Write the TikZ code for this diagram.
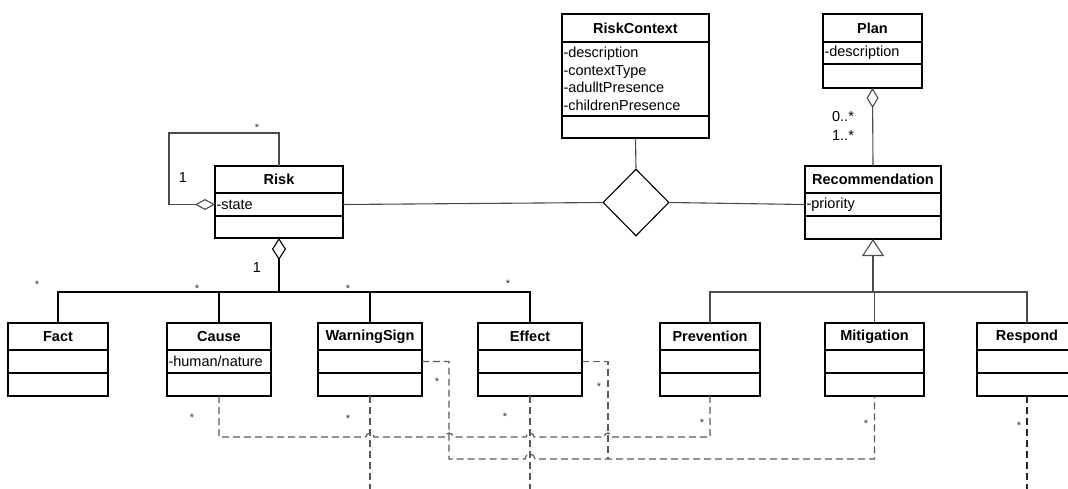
\documentclass[tikz,border=0pt]{standalone}
\usepackage{fontspec}
\setmainfont{Liberation Sans}
\usetikzlibrary{positioning,shapes.geometric,arrows.meta}
\tikzset{
  umlname/.style={draw, line width=1.4pt, minimum height=27pt, inner sep=0pt, outer sep=0pt, font=\fontsize{14.5}{17.5}\selectfont\bfseries},
  umlpart/.style={draw, line width=1.4pt, inner xsep=1.5pt, inner ysep=0pt, outer sep=0pt, align=left, font=\fontsize{14.5}{17.5}\selectfont},
  assoc/.style={line width=1.1pt, black!70},
  dep/.style={line width=1.2pt, black!65, dash pattern=on 7pt off 4pt},
  mult/.style={inner sep=0pt, font=\fontsize{14.5}{17.5}\selectfont},
  star/.style={inner sep=0pt, black!80, font=\fontsize{11}{11}\selectfont},
}
\begin{document}
\begin{tikzpicture}[x=1pt,y=-1pt]
\useasboundingbox (0,0) rectangle (1068,488);

\node[umlname, minimum width=128pt] (risk) at (279,179.5) {Risk};
\node[umlpart, text width=125pt, minimum height=23pt, below=0pt of risk] (risk-a) {-state};
\node[umlpart, text width=125pt, minimum height=22pt, below=0pt of risk-a] (risk-o) {};

\node[umlname, minimum width=147pt, minimum height=28pt] (ctx) at (635.5,28) {RiskContext};
\node[umlpart, text width=144pt, minimum height=74pt, below=0pt of ctx] (ctx-a) {-description\\-contextType\\-adulltPresence\\-childrenPresence};
\node[umlpart, text width=144pt, minimum height=22pt, below=0pt of ctx-a] (ctx-o) {};

\node[umlname, minimum width=99pt, minimum height=28pt] (plan) at (872.5,28) {Plan};
\node[umlpart, text width=96pt, minimum height=22pt, below=0pt of plan] (plan-a) {-description};
\node[umlpart, text width=96pt, minimum height=24pt, below=0pt of plan-a] (plan-o) {};

\node[umlname, minimum width=136pt] (rec) at (873,179.5) {Recommendation};
\node[umlpart, text width=133pt, minimum height=23pt, below=0pt of rec] (rec-a) {-priority};
\node[umlpart, text width=133pt, minimum height=23pt, below=0pt of rec-a] (rec-o) {};

\node[umlname, minimum width=100pt] (fact) at (58,336.5) {Fact};
\node[umlpart, text width=97pt, minimum height=23pt, below=0pt of fact] (fact-a) {};
\node[umlpart, text width=97pt, minimum height=23pt, below=0pt of fact-a] (fact-o) {};

\node[umlname, minimum width=104pt] (cause) at (219,336.5) {Cause};
\node[umlpart, text width=101pt, minimum height=23pt, below=0pt of cause] (cause-a) {-human/nature};
\node[umlpart, text width=101pt, minimum height=23pt, below=0pt of cause-a] (cause-o) {};

\node[umlname, minimum width=104pt] (warn) at (370,336.5) {WarningSign};
\node[umlpart, text width=101pt, minimum height=23pt, below=0pt of warn] (warn-a) {};
\node[umlpart, text width=101pt, minimum height=23pt, below=0pt of warn-a] (warn-o) {};

\node[umlname, minimum width=104pt] (eff) at (530,336.5) {Effect};
\node[umlpart, text width=101pt, minimum height=23pt, below=0pt of eff] (eff-a) {};
\node[umlpart, text width=101pt, minimum height=23pt, below=0pt of eff-a] (eff-o) {};

\node[umlname, minimum width=100pt] (prev) at (710,336.5) {Prevention};
\node[umlpart, text width=97pt, minimum height=23pt, below=0pt of prev] (prev-a) {};
\node[umlpart, text width=97pt, minimum height=23pt, below=0pt of prev-a] (prev-o) {};

\node[umlname, minimum width=99pt] (mit) at (874.5,336.5) {Mitigation};
\node[umlpart, text width=96pt, minimum height=23pt, below=0pt of mit] (mit-a) {};
\node[umlpart, text width=96pt, minimum height=23pt, below=0pt of mit-a] (mit-o) {};

\node[umlname, minimum width=100pt] (resp) at (1027,336.5) {Respond};
\node[umlpart, text width=97pt, minimum height=23pt, below=0pt of resp] (resp-a) {};
\node[umlpart, text width=97pt, minimum height=23pt, below=0pt of resp-a] (resp-o) {};

\node[draw, diamond, line width=1.1pt, minimum width=66pt, minimum height=67pt, inner sep=0pt] (rel) at (636,202.5) {};

\coordinate (loop) at (169,133);
\coordinate (bus) at (279,292);
\coordinate (gbus) at (873,292);
\coordinate (join) at (608,459);
\coordinate (warn-end) at (370,500);
\coordinate (eff-end) at (530,500);
\coordinate (resp-end) at (1027,500);

\draw[assoc, -{Diamond[open,length=20pt,width=11pt]}] (risk.north) |- (loop) |- (risk-a.west);
\draw[assoc] (risk-a.east) -- (rel.west);
\draw[assoc] (rel.east) -- (rec-a.west);
\draw[assoc] (ctx-o.south) -- (rel.north);
\draw[assoc, {Diamond[open,length=20pt,width=12pt]}-] (plan-o.south) -- (rec.north);

\draw[assoc, black, {Diamond[open,length=22pt,width=14pt]}-] (risk-o.south) -- (bus);
\draw[assoc, black] (fact.north) |- (bus) -| (eff.north);
\draw[assoc, black] (cause.north) -- (cause.north |- bus);
\draw[assoc, black] (warn.north) -- (warn.north |- bus);

\draw[assoc, -{Triangle[open,length=17pt,width=22pt]}] (gbus) -- (rec-o.south);
\draw[assoc] (prev.north) |- (gbus) -| (resp.north);
\draw[assoc] (mit.north) -- (mit.north |- gbus);

\draw[dep] (cause-o.south) |- (366,437) arc[start angle=180,end angle=0,radius=4pt]
  -- (445,437) arc[start angle=180,end angle=0,radius=4pt]
  -- (526,437) arc[start angle=180,end angle=0,radius=4pt]
  -- (604,437) arc[start angle=180,end angle=0,radius=4pt] -| (prev-o.south);
\draw[dep] (warn-a.east) -| (449,459) -- (525,459) arc[start angle=180,end angle=0,radius=5pt] -| (mit-o.south);
\draw[dep] (eff-a.east) -| (join);
\draw[dep] (warn-o.south) -- (warn-end);
\draw[dep] (eff-o.south) -- (eff-end);
\draw[dep, line width=1.6pt, black!85] (resp-o.south) -- (resp-end);

\node[star] (s1) at (257,128) {*};
\node[mult] (m1) at (183,178) {1};
\node[mult] (m2) at (257,268) {1};
\node[star] (s2) at (37,285) {*};
\node[star] (s3) at (197,289) {*};
\node[star] (s4) at (348,289) {*};
\node[star] (s5) at (508,284) {*};
\node[mult] (m3) at (843,117) {0..*};
\node[mult] (m4) at (843,136) {1..*};
\node[star] (s6) at (192,418) {*};
\node[star] (s7) at (348,419) {*};
\node[star] (s8) at (437,382) {*};
\node[star] (s9) at (505,417) {*};
\node[star] (s10) at (599,387) {*};
\node[star] (s11) at (702,423) {*};
\node[star] (s12) at (866,424) {*};
\node[star] (s13) at (1019,426) {*};
\end{tikzpicture}
\end{document}
